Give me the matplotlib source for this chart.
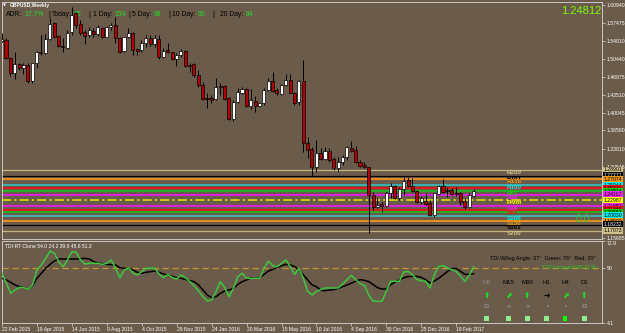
import matplotlib
matplotlib.use('Agg')
import matplotlib.pyplot as plt
import matplotlib.transforms as mtransforms
from matplotlib.patches import Rectangle

plt.rcParams['font.family'] = ['Liberation Sans', 'DejaVu Sans']

# ---------------- data ----------------
opens = [1.5395, 1.5414, 1.5071, 1.4768, 1.4943, 1.4865, 1.4929, 1.4618, 1.4962, 1.5187, 1.5156,
         1.5433, 1.5750, 1.5492, 1.5304, 1.5265, 1.5564, 1.5933, 1.5725, 1.5564, 1.5511,
         1.5595, 1.5531, 1.5642, 1.5478, 1.5673, 1.5706, 1.5447, 1.5207, 1.5467, 1.5556,
         1.5234, 1.5220, 1.5350, 1.5447, 1.5337, 1.5434, 1.5079, 1.5220, 1.5175, 1.5040,
         1.5123, 1.5207, 1.4935, 1.4943, 1.4735, 1.4541, 1.4281, 1.4281, 1.4262, 1.4527,
         1.4527, 1.4281, 1.3875, 1.4217, 1.4391, 1.4457, 1.4133, 1.4236, 1.4133, 1.4185,
         1.4443, 1.4618, 1.4443, 1.4366, 1.4541, 1.4638, 1.4391, 1.4205, 1.4618, 1.3409,
         1.3292, 1.2954, 1.3226, 1.3098, 1.3265, 1.3098, 1.2923, 1.3052, 1.3136, 1.3323,
         1.3278, 1.3051, 1.2987, 1.2942, 1.2405, 1.2171, 1.2230, 1.2191, 1.2449, 1.2579,
         1.2340, 1.2515, 1.2696, 1.2579, 1.2488, 1.2275, 1.2294, 1.2243, 1.2016, 1.2424,
         1.2579, 1.2502, 1.2502, 1.2449, 1.2438, 1.2294, 1.2178, 1.2390]
highs = [1.5550, 1.5447, 1.5090, 1.5175, 1.4974, 1.4962, 1.4962, 1.4974, 1.5201, 1.5511, 1.5525,
         1.5835, 1.5770, 1.5511, 1.5447, 1.5608, 1.6049, 1.5960, 1.5803, 1.5608, 1.5673,
         1.5642, 1.5706, 1.5673, 1.5686, 1.5745, 1.5867, 1.5478, 1.5478, 1.5642, 1.5575,
         1.5253, 1.5414, 1.5511, 1.5511, 1.5511, 1.5511, 1.5253, 1.5350, 1.5187, 1.5168,
         1.5234, 1.5220, 1.4962, 1.4962, 1.4832, 1.4605, 1.4379, 1.4346, 1.4670, 1.4573,
         1.4541, 1.4314, 1.4249, 1.4476, 1.4508, 1.4476, 1.4457, 1.4327, 1.4217, 1.4476,
         1.4670, 1.4787, 1.4476, 1.4554, 1.4748, 1.4748, 1.4411, 1.4638, 1.5026, 1.3531,
         1.3337, 1.3473, 1.3311, 1.3331, 1.3311, 1.3149, 1.3149, 1.3181, 1.3356, 1.3459,
         1.3356, 1.3084, 1.3051, 1.2954, 1.2469, 1.2340, 1.2275, 1.2469, 1.2632, 1.2599,
         1.2566, 1.2748, 1.2760, 1.2729, 1.2502, 1.2385, 1.2438, 1.2308, 1.2449, 1.2599,
         1.2709, 1.2566, 1.2534, 1.2566, 1.2469, 1.2340, 1.2438, 1.2515]
lows = [1.5380, 1.5040, 1.4716, 1.4651, 1.4832, 1.4754, 1.4574, 1.4574, 1.4865, 1.5123, 1.5137,
        1.5414, 1.5447, 1.5273, 1.5187, 1.5234, 1.5511, 1.5642, 1.5511, 1.5337, 1.5478,
        1.5478, 1.5492, 1.5447, 1.5467, 1.5608, 1.5356, 1.5156, 1.5187, 1.5447, 1.5123,
        1.5123, 1.5187, 1.5284, 1.5298, 1.5284, 1.5040, 1.5059, 1.5156, 1.5026, 1.4910,
        1.5090, 1.4896, 1.4799, 1.4702, 1.4508, 1.4249, 1.4088, 1.4185, 1.4249, 1.4346,
        1.4249, 1.3861, 1.3848, 1.4185, 1.4366, 1.4120, 1.4069, 1.4022, 1.4107, 1.4152,
        1.4430, 1.4411, 1.4346, 1.4346, 1.4527, 1.4379, 1.4152, 1.4152, 1.3245, 1.3123,
        1.2774, 1.2857, 1.3084, 1.3084, 1.3051, 1.2890, 1.2857, 1.2987, 1.3084, 1.3245,
        1.3020, 1.2954, 1.2923, 1.1661, 1.2113, 1.2146, 1.2080, 1.2166, 1.2340, 1.2321,
        1.2308, 1.2405, 1.2566, 1.2469, 1.2243, 1.2230, 1.2211, 1.1997, 1.1984, 1.2405,
        1.2449, 1.2372, 1.2405, 1.2385, 1.2211, 1.2126, 1.2146, 1.2372]
closes = [1.5430, 1.5059, 1.4768, 1.4943, 1.4865, 1.4929, 1.4618, 1.4962, 1.5187, 1.5156, 1.5428,
          1.5719, 1.5478, 1.5298, 1.5273, 1.5556, 1.5900, 1.5706, 1.5550, 1.5498, 1.5608,
          1.5531, 1.5661, 1.5478, 1.5673, 1.5706, 1.5447, 1.5187, 1.5467, 1.5556, 1.5220,
          1.5207, 1.5350, 1.5447, 1.5337, 1.5447, 1.5079, 1.5207, 1.5175, 1.5040, 1.5123,
          1.5207, 1.4915, 1.4915, 1.4735, 1.4541, 1.4269, 1.4262, 1.4249, 1.4507, 1.4507,
          1.4262, 1.3875, 1.4217, 1.4411, 1.4457, 1.4133, 1.4249, 1.4133, 1.4197, 1.4443,
          1.4618, 1.4430, 1.4379, 1.4541, 1.4638, 1.4391, 1.4197, 1.4618, 1.3409, 1.3278,
          1.2954, 1.3226, 1.3098, 1.3265, 1.3084, 1.2923, 1.3052, 1.3136, 1.3331, 1.3265,
          1.3051, 1.2968, 1.2954, 1.2405, 1.2166, 1.2210, 1.2197, 1.2449, 1.2579, 1.2340,
          1.2515, 1.2683, 1.2579, 1.2488, 1.2275, 1.2340, 1.2230, 1.2016, 1.2438, 1.2579,
          1.2469, 1.2482, 1.2424, 1.2424, 1.2275, 1.2178, 1.2405, 1.2481]

tdi_green = [45.8, 37.4, 29.0, 31.8, 34.0, 33.7, 32.3, 36.0, 48.6, 52.8, 58.3,
             64.5, 62.5, 55.6, 51.3, 57.0, 63.9, 63.4, 57.0, 53.6, 54.2,
             54.2, 54.2, 53.3, 54.2, 57.0, 50.0, 42.1, 48.6, 50.5, 45.8,
             44.4, 47.2, 50.0, 50.0, 50.0, 44.9, 42.1, 44.9, 42.1, 41.0,
             44.4, 42.1, 38.8, 35.4, 31.0, 26.2, 22.6, 23.4, 30.4, 38.8,
             33.7, 26.2, 33.2, 43.0, 45.8, 41.6, 41.6, 41.6, 41.6, 50.0,
             56.1, 52.2, 51.3, 54.2, 57.0, 51.3, 44.9, 50.0, 41.6, 30.4,
             27.6, 30.7, 32.1, 33.5, 33.5, 33.5, 33.5, 36.8, 40.5, 44.1,
             40.5, 37.1, 35.7, 27.3, 22.3, 22.3, 22.3, 30.7, 39.1, 39.1,
             39.1, 46.9, 47.4, 44.6, 40.5, 39.6, 39.1, 33.5, 44.6, 51.6,
             52.2, 50.2, 48.8, 47.4, 43.2, 39.1, 44.1, 51.3]
tdi_signal = [41.6, 40.2, 38.2, 36.0, 34.6, 33.7, 32.3, 35.4, 41.6, 45.8, 50.0,
              53.3, 56.1, 57.8, 57.8, 57.8, 57.8, 57.8, 58.1, 58.3, 57.8,
              55.6, 54.4, 53.9, 53.3, 53.0, 52.8, 50.5, 50.0, 50.0, 48.6,
              46.6, 45.8, 46.6, 47.2, 47.7, 46.6, 45.2, 44.4, 43.2, 42.1,
              41.6, 40.7, 39.6, 38.8, 36.0, 31.8, 27.6, 25.3, 26.2, 29.0,
              31.0, 31.8, 33.2, 36.5, 38.8, 40.2, 42.1, 41.6, 42.1, 44.9,
              47.7, 49.1, 50.5, 52.2, 53.3, 52.8, 51.4, 48.6, 44.4, 40.2,
              36.0, 34.6, 31.5, 31.2, 31.8, 32.1, 33.2, 34.6, 36.0, 37.6,
              39.1, 40.5, 39.9, 38.8, 36.3, 33.7, 32.6, 32.6, 36.3, 38.5,
              40.2, 42.1, 43.0, 43.2, 43.2, 42.4, 40.5, 37.6, 39.3, 41.6,
              44.4, 47.4, 49.7, 50.0, 47.4, 44.9, 44.9, 45.6]

date_labels = ['22 Feb 2015', '19 Apr 2015', '14 Jun 2015', '9 Aug 2015', '4 Oct 2015',
               '29 Nov 2015', '24 Jan 2016', '20 Mar 2016', '15 May 2016', '10 Jul 2016',
               '4 Sep 2016', '30 Oct 2016', '25 Dec 2016', '19 Feb 2017']
bars_per_label = 8

price_ticks = [1.60940, 1.57475, 1.54010, 1.50440, 1.46975, 1.43510, 1.40045,
               1.36580, 1.33010, 1.29545, 1.15685]

level_names = ['R200', 'R161', 'R138', 'R100', 'R78', 'R61', 'R38', 'Pivot',
               'S38', 'S61', 'S78', 'S100', 'S138', 'S161', 'S200']
level_prices = [1.28901, 1.27771, 1.27074, 1.25944, 1.25311, 1.24814, 1.24117, 1.22987,
                1.21857, 1.21160, 1.20663, 1.20030, 1.18900, 1.18232, 1.17073]
level_label_shown = [True, True, True, True, False, True, True, True,
                     True, True, False, True, True, True, True]
level_colors = ['#c8b47c', '#000000', '#e89020', '#3cb0b0', '#e01818', '#22b422', '#e020e0', '#e8e800',
                '#e020e0', '#e01818', '#22b422', '#3cb0b0', '#e89020', '#000000', '#c8b47c']
level_box_colors = ['#cfc08a', '#000000', '#f09a10', '#00f0f0', '#f01010', '#10d010', '#f020f0', '#ffff00',
                    '#f020f0', '#f01010', '#10d010', '#00f0f0', '#f09a10', '#000000', '#cfc08a']

current_price = '1.24812'
adr_items = [('ADR:', 'k'), ('17.7%', 'g'), ('|', 'k'), ('Today:', 'k'), ('45', 'g'), ('|', 'k'),
             ('1 Day:', 'k'), ('154', 'g'), ('|', 'k'), ('5 Day:', 'k'), ('98', 'g'), ('|', 'k'),
             ('10 Day:', 'k'), ('90', 'g'), ('|', 'k'), ('20 Day:', 'k'), ('84', 'g')]
tdi_header = 'TDI-RT-Clone 54.0 24.2 39.8 45.6 51.3'
tdi_levels = [72.9, 50, 4.1]
tf_names = ['M5', 'M15', 'M30', 'H1', 'H4', 'D1']
tf_arrows = ['\u2b06', '\u2b08', '\u2b06', '\u279c', '\u2b08', '\u2b06']
tf_arrow_colors = ['#22dd22', '#22dd22', '#22dd22', '#000000', '#22dd22', '#22dd22']
tf_marks = ['O', '\u221e', '\u221e', '\u2022', '\u2022', 'O']
tf_square_colors = ['#90ee90', '#90ee90', '#90ee90', '#90ee90', '#00ff00', '#90ee90']

# ---------------- layout ----------------
W, H = 625, 333
BG = '#6b5b4b'
SPINE = '#d8d8d8'

def fx(px):
    return px / W

def fy(py):
    return 1 - py / H

fig = plt.figure(figsize=(W / 100, H / 100), dpi=100, facecolor=BG)
ax = fig.add_axes([fx(2), fy(239), 600 / W, 237 / H], facecolor=BG)
ax2 = fig.add_axes([fx(2), fy(323), 600 / W, 82 / H], facecolor=BG)

n = len(opens)
xs = list(range(n))
x_left, x_right = 0.085, 137.38

# ---------------- main chart ----------------
for name, p, c in zip(level_names, level_prices, level_colors):
    if name == 'Pivot':
        ax.axhline(p, color=c, lw=1.1, ls=(0, (6, 2, 1.5, 2)), zorder=2)
    elif name in ('R200', 'S200', 'R161', 'S161'):
        ax.axhline(p, color=c, lw=0.9, zorder=2)
    else:
        ax.axhline(p, color=c, lw=1.4, zorder=2)

for x, o, h, l, c in zip(xs, opens, highs, lows, closes):
    ax.vlines(x, l, h, color='black', lw=0.7, zorder=4)
    bull = c >= o
    bottom = min(o, c)
    height = max(abs(c - o), 0.0012)
    ax.bar(x, height, bottom=bottom, width=0.7, color='white' if bull else '#b00000',
           edgecolor='black', linewidth=0.5, zorder=5)

ax.set_xlim(x_left, x_right)
ax.set_ylim(1.1550, 1.6152)
ax.yaxis.tick_right()
ax.set_yticks(price_ticks)
ax.set_yticklabels(['%.5f' % t for t in price_ticks])
ax.tick_params(axis='y', colors=SPINE, labelcolor='white', labelsize=3.7, length=2, width=0.5, pad=1.5)
ax.set_xticks([])
for s in ax.spines.values():
    s.set_color(SPINE)
    s.set_linewidth(0.6)

blend = mtransforms.blended_transform_factory(ax.transAxes, ax.transData)
for name, p, c, shown in zip(level_names, level_prices, level_box_colors, level_label_shown):
    if shown:
        ax.text((507 - 2) / 600, p, name, transform=blend, color=c, fontsize=4.5,
                fontweight='bold', va='top', ha='left', zorder=6)

for name, p, bc in zip(level_names, level_prices, level_box_colors):
    tc = 'white' if bc == '#000000' else 'black'
    ax.text(1.003, p, '%.5f' % p, transform=blend, color=tc, fontsize=3.7, va='center', ha='left',
            bbox=dict(facecolor=bc, edgecolor='none', pad=0.7), zorder=7, clip_on=False)

ax.text(fx(581.5), fy(10.5), current_price, transform=fig.transFigure, color='#7cfc00',
        fontsize=8, ha='center', va='center', zorder=6)
ax.text(fx(583), fy(219), '0.0', transform=fig.transFigure, color='#30c030',
        fontsize=7.5, ha='center', va='center', zorder=6)

# header
ax.text(fx(3), fy(5.7), '\u25bc', transform=fig.transFigure, color='white', fontsize=2.8,
        va='center', ha='left', family='DejaVu Sans', zorder=1)
ax.text(fx(10), fy(5.7), 'GBPUSD,Weekly', transform=fig.transFigure, color='white', fontsize=3.6,
        fontweight='bold', va='center', ha='left', zorder=1)
adr_x = [6, 24, 48.3, 52.3, 74, 88.3, 92.7, 114.3, 128.3, 131.7, 154, 168.3, 172.3, 197.7, 212.3, 220, 246]
for (txt, kind), px in zip(adr_items, adr_x):
    ax.text(fx(px), fy(14.3), txt, transform=fig.transFigure,
            color='#22dd22' if kind == 'g' else 'black', fontsize=4.9, va='center', ha='left', zorder=1)

# ---------------- TDI panel ----------------
ax2.axhline(50, color='#c8952d', lw=0.9, ls=(0, (5, 3)), zorder=1)
ax2.plot(xs, tdi_signal, color='black', lw=1.1, zorder=3)
ax2.plot(xs, tdi_green, color='#3cc83c', lw=1.1, zorder=4)
ax2.set_xlim(x_left, x_right)
ax2.set_ylim(4.1, 72.9)
ax2.yaxis.tick_right()
ax2.set_yticks(tdi_levels)
ax2.set_yticklabels(['%g' % v for v in tdi_levels])
ax2.tick_params(axis='y', colors=SPINE, labelcolor='white', labelsize=3.7, length=2, width=0.5, pad=1.5)
for lbl, v in zip(ax2.get_yticklabels(), tdi_levels):
    if v == 72.9:
        lbl.set_va('top')
tick_pos = [i * bars_per_label for i in range(len(date_labels))]
ax2.set_xticks(tick_pos)
ax2.set_xticklabels(date_labels, ha='left')
ax2.tick_params(axis='x', colors=SPINE, labelcolor='white', labelsize=3.6, length=2, width=0.5, pad=1.2)
for s in ax2.spines.values():
    s.set_color(SPINE)
    s.set_linewidth(0.6)

ax2.text(fx(4.7), fy(246), tdi_header, transform=fig.transFigure, color='white', fontsize=3.65,
         va='center', ha='left')
ax2.text(fx(596), fy(258.3), 'TDI WAvg Angle: 37\u00b0  Green: 78\u00b0  Red: 20\u00b0',
         transform=fig.transFigure, color='black', fontsize=4, va='center', ha='right')
ax2.text(fx(596), fy(267.3), 'TDI Crossed UP [2.9]', transform=fig.transFigure, color='#22cc22',
         fontsize=4.1, va='center', ha='right')

tf_x = [486.7, 508.5, 527.5, 546.7, 565, 584.3]
for i, (name, arr, ac, mk, sc) in enumerate(zip(tf_names, tf_arrows, tf_arrow_colors, tf_marks, tf_square_colors)):
    px = tf_x[i]
    ax2.text(fx(px), fy(282.7), name, transform=fig.transFigure, color='#8a8a8a' if name == 'M5' else 'black',
             fontsize=4.3, ha='center', va='center')
    ax2.text(fx(px), fy(295.7), arr, transform=fig.transFigure, color=ac, fontsize=5.5,
             ha='center', va='center', family='DejaVu Sans', fontweight='bold')
    ax2.text(fx(px), fy(306), mk, transform=fig.transFigure, color='#8c8c8c',
             fontsize=4.5 if mk == 'O' else 4, ha='center', va='center', family='DejaVu Sans',
             fontweight='bold')
    fig.patches.append(Rectangle((fx(px - 2.4), fy(321)), 4.8 / W, 4.8 / H, transform=fig.transFigure,
                                 facecolor=sc, edgecolor='none', zorder=5))

fig.savefig('out.png', dpi=100, facecolor=BG)
